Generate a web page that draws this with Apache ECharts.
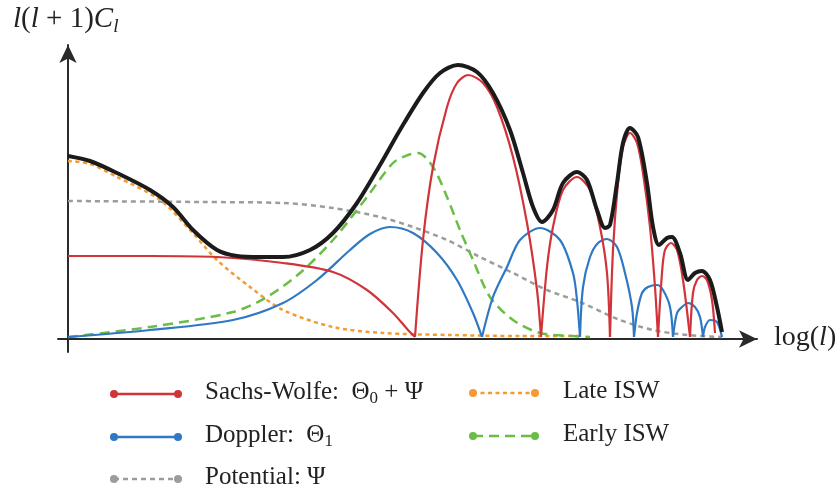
<!DOCTYPE html>
<html>
<head>
<meta charset="utf-8">
<script src="https://cdn.jsdelivr.net/npm/echarts@6/dist/echarts.min.js"></script>
<style>html,body{margin:0;padding:0;background:#fff;}#chart{width:839px;height:495px;}</style>
</head>
<body>
<div id="chart"></div>
<script>
// x: log(l) in arbitrary units, y: l(l+1)C_l in arbitrary units
const totalSpectrum = [[0,18.3],[2.2,17.8],[4.9,16.6],[8.2,14.9],[10.5,13.2],[12.5,10.9],[14.9,8.9],[16.9,8.3],[19.2,8.2],[21.5,8.2],[24.2,8.9],[26.5,10.6],[28.9,13.6],[31.2,17.4],[33.2,20.9],[35.5,24.6],[37.2,26.6],[39.0,27.4],[40.9,26.7],[42.5,24.6],[44.2,20.9],[45.5,16.6],[46.5,13.2],[47.4,11.7],[48.5,12.9],[49.5,15.6],[50.9,16.7],[51.9,15.9],[52.9,12.9],[53.7,11.1],[54.2,11.4],[54.9,15.6],[55.5,19.6],[56.2,21.1],[57.0,20.2],[57.9,15.6],[58.5,11.2],[59.1,9.4],[59.9,10.1],[60.4,10.2],[61.2,8.6],[62.0,5.9],[62.7,6.6],[63.4,6.8],[64.2,5.9],[64.9,3.2],[65.4,0.7]];

// Sachs-Wolfe, split at its zeros
const sachsWolfe1 = [[0,8.3],[8.2,8.3],[14.9,8.2],[21.5,7.6],[26.5,6.7],[29.9,4.9],[32.5,2.6],[34.0,0.9],[34.7,0.2]];
const sachsWolfe2 = [[34.7,0.2],[35.5,9.9],[36.5,17.2],[37.9,23.2],[38.9,25.6],[40.0,26.4],[41.5,25.6],[42.9,23.2],[44.5,18.2],[45.9,11.6],[46.9,4.9],[47.3,0.2]];
const sachsWolfe3 = [[47.3,0.2],[47.9,7.2],[48.5,11.2],[49.5,14.9],[50.9,16.2],[52.2,14.9],[53.2,11.2],[53.9,6.6],[54.2,0.2]];
const sachsWolfe4 = [[54.2,0.2],[54.5,8.9],[55.0,15.6],[55.5,19.2],[56.2,20.6],[56.9,19.6],[57.5,16.6],[58.2,11.2],[58.7,5.2],[59.0,0.2]];
const sachsWolfe5 = [[59.0,0.2],[59.4,6.6],[59.7,8.9],[60.3,9.6],[60.9,8.9],[61.5,5.9],[62.2,0.2]];
const sachsWolfe6 = [[62.2,0.2],[62.5,4.6],[62.9,5.9],[63.4,6.3],[63.9,5.9],[64.4,3.9],[64.7,0.6]];

// Doppler, split at its zeros
const doppler1 = [[0,0.2],[8.2,0.9],[16.5,1.9],[21.5,3.6],[24.9,5.9],[28.2,8.9],[30.2,10.5],[32.2,11.2],[34.5,10.6],[36.9,8.6],[38.9,5.9],[40.5,2.6],[41.4,0.2]];
const doppler2 = [[41.4,0.2],[42.5,4.2],[43.9,7.2],[45.2,9.9],[47.2,11.1],[49.2,9.9],[50.5,6.6],[50.9,3.9],[51.2,0.2]];
const doppler3 = [[51.2,0.2],[51.5,5.2],[52.2,8.2],[53.0,9.6],[53.9,10.0],[54.9,9.2],[55.7,6.6],[56.4,3.2],[56.6,0.2]];
const doppler4 = [[56.6,0.2],[56.9,2.6],[57.4,4.6],[58.0,5.2],[58.9,5.4],[59.5,4.9],[60.2,3.2],[60.5,0.2]];
const doppler5 = [[60.5,0.2],[60.9,2.6],[61.4,3.2],[62.0,3.6],[62.7,3.2],[63.2,2.2],[63.5,0.2]];
const doppler6 = [[63.5,0.2],[63.7,1.2],[64.2,1.9],[64.9,1.7],[65.4,0.2]];

const earlyISW = [[0,0.2],[8.2,1.2],[16.5,2.7],[19.9,4.2],[23.2,6.6],[26.5,9.9],[29.9,14.2],[32.5,17.6],[34.0,18.4],[35.0,18.6],[36.5,17.2],[37.9,14.2],[39.2,10.9],[40.5,7.9],[42.2,4.2],[44.5,1.9],[47.2,0.6],[50.5,0.3],[52.2,0.2]];
const lateISW = [[0,17.8],[2.2,17.5],[4.9,16.2],[9.2,13.9],[12.2,10.9],[14.9,7.9],[18.2,5.2],[21.5,2.9],[26.5,1.2],[31.5,0.6],[38.2,0.4],[45.2,0.3],[51.2,0.3]];
const potential = [[0,13.8],[13.2,13.7],[21.5,13.6],[26.5,13.1],[31.2,12.2],[34.5,11.2],[37.9,9.9],[41.2,8.2],[44.5,6.6],[47.9,4.9],[51.2,3.7],[55.2,1.9],[58.5,0.9],[61.9,0.4],[65.4,0.2]];

const legendLabels = ['Sachs-Wolfe:  Θ{sub|0} + Ψ', 'Doppler:  Θ{sub|1}', 'Potential: Ψ', 'Late ISW', 'Early ISW'];
const yAxisTitle = '{it|l}({it|l} + 1){it|C}{subit|l}';
const xAxisTitle = 'log({it|l})';

const COL = {
  red: '#d0343a', blue: '#2f79c4', gray: '#9c9c9c', orange: '#f49b33', green: '#6abd45', black: '#1b1b1b'
};
const FONT = '"Liberation Serif", "DejaVu Serif", serif';

function seg(data, color, width, type, z) {
  return {
    type: 'line', data: data, showSymbol: false, smooth: 0.3, z: z,
    lineStyle: { color: color, width: width, type: type, cap: 'butt' },
    silent: true, animation: false
  };
}

const series = [];
series.push(seg(potential, COL.gray, 2.5, [5, 4], 2));
series.push(seg(lateISW, COL.orange, 2.5, [4, 3.5], 3));
series.push(seg(earlyISW, COL.green, 2.5, [10, 6], 4));
[doppler1, doppler2, doppler3, doppler4, doppler5, doppler6].forEach(d => series.push(seg(d, COL.blue, 2.2, 'solid', 5)));
[sachsWolfe1, sachsWolfe2, sachsWolfe3, sachsWolfe4, sachsWolfe5, sachsWolfe6].forEach(d => series.push(seg(d, COL.red, 2.2, 'solid', 6)));
series.push(seg(totalSpectrum, COL.black, 4, 'solid', 7));

function richStyles(size) {
  const sub = Math.round(size * 0.66);
  const lh = Math.round(size * 1.2);
  return {
    sub: { fontFamily: FONT, fontSize: sub, lineHeight: sub, verticalAlign: 'bottom', fill: '#222', color: '#222' },
    it: { fontFamily: FONT, fontStyle: 'italic', fontSize: size, lineHeight: lh, fill: '#222', color: '#222' },
    subit: { fontFamily: FONT, fontStyle: 'italic', fontSize: sub, lineHeight: sub, verticalAlign: 'bottom', fill: '#222', color: '#222' }
  };
}

function textEl(x, y, text, size) {
  return { type: 'text', x: x, y: y, z: 10,
    style: { text: text, font: size + 'px ' + FONT, fill: '#222', lineHeight: Math.round(size * 1.2), verticalAlign: 'middle', align: 'left', rich: richStyles(size) } };
}

function legendItem(x1, x2, y, color, dash, label, tx) {
  return [
    { type: 'line', shape: { x1: x1, y1: y, x2: x2, y2: y }, style: { stroke: color, lineWidth: 2.5, lineDash: dash }, z: 10 },
    { type: 'circle', shape: { cx: x1, cy: y, r: 4 }, style: { fill: color }, z: 10 },
    { type: 'circle', shape: { cx: x2, cy: y, r: 4 }, style: { fill: color }, z: 10 },
    textEl(tx, y - 2, label, 25)
  ];
}

const graphics = [].concat(
  legendItem(114, 178, 394, COL.red, null, legendLabels[0], 205),
  legendItem(114, 178, 437, COL.blue, null, legendLabels[1], 205),
  legendItem(114, 178, 479, COL.gray, [5, 4], legendLabels[2], 205),
  legendItem(473, 535, 393, COL.orange, [4, 3.5], legendLabels[3], 563),
  legendItem(473, 535, 436, COL.green, [10, 6], legendLabels[4], 563),
  [
    textEl(13, 19, yAxisTitle, 29),
    textEl(774, 338, xAxisTitle, 28)
  ]
);

const axisCommon = {
  type: 'value',
  splitLine: { show: false },
  axisTick: { show: false },
  axisLabel: { show: false },
  axisLine: { show: true, onZero: true, symbol: ['none', 'arrow'], symbolSize: [13, 18], lineStyle: { color: '#2a2a2a', width: 2 } }
};

const chart = echarts.init(document.getElementById('chart'), null, { renderer: 'canvas' });
chart.setOption({
  animation: false,
  backgroundColor: '#fff',
  grid: { left: 58, right: 82, top: 45, bottom: 143, containLabel: false },
  xAxis: Object.assign({}, axisCommon, { min: -1, max: 68.9 }),
  yAxis: Object.assign({}, axisCommon, { min: -1.3, max: 29.4 }),
  series: series,
  graphic: graphics
});
</script>
</body>
</html>
